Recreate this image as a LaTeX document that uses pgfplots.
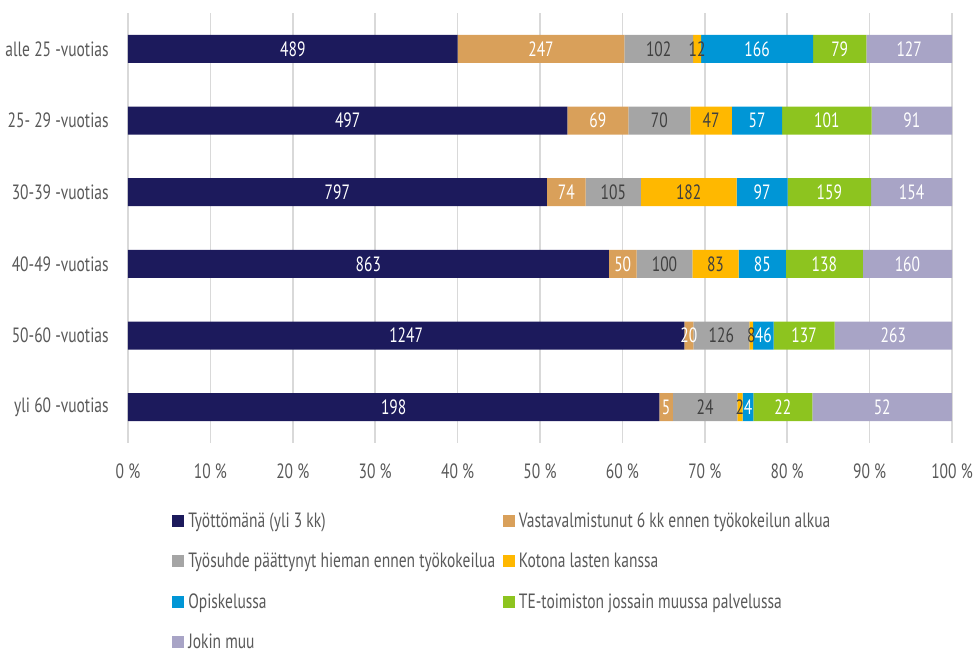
\documentclass[border=0pt]{standalone}
\usepackage{fontspec}
\setmainfont[FakeStretch=0.75]{PT Sans}
\usepackage{pgfplots}
\usepackage{pgfplotstable}
\pgfplotsset{compat=1.18}
\definecolor{cA}{HTML}{1C1A5C}
\definecolor{cB}{HTML}{D9A05A}
\definecolor{cC}{HTML}{A5A5A5}
\definecolor{cD}{HTML}{FFB800}
\definecolor{cE}{HTML}{0096D6}
\definecolor{cF}{HTML}{8DC41F}
\definecolor{cG}{HTML}{A8A4C6}
\definecolor{txt}{HTML}{595959}
\definecolor{dlab}{HTML}{404040}
\definecolor{grd}{HTML}{D9D9D9}

\pgfplotstableread{
pos a b c d e f g
0 489 247 102 12 166 79 127
1 497 69 70 47 57 101 91
2 797 74 105 182 97 159 154
3 863 50 100 83 85 138 160
4 1247 20 126 8 46 137 263
5 198 5 24 2 4 22 52
}\data
\pgfplotstablecreatecol[expr={\thisrow{a}+\thisrow{b}+\thisrow{c}+\thisrow{d}+\thisrow{e}+\thisrow{f}+\thisrow{g}}]{t}\data

\newcommand\seg[3]{%
\addplot[fill=#2, draw=none]
  table[x expr={\thisrow{#1}/\thisrow{t}*100}, y=pos] {\data};
\addlegendentry{#3}}

% #1 column, #2 sum of earlier columns, #3 label colour
\newcommand\lab[3]{%
\addplot[draw=none, mark=none, nodes near coords, point meta=explicit symbolic,
  every node near coord/.append style={anchor=center, text=#3}]
  table[x expr={(#2+\thisrow{#1}/2)/\thisrow{t}*100}, y=pos, meta=#1] {\data};}

\newcommand\lf{\fontsize{15.5}{18}\selectfont}

\pgfplotsset{common/.style={
  at={(96pt,-9.75pt)}, anchor=north west,
  width=618pt, height=322.5pt, scale only axis,
  xmin=0, xmax=100, ymin=-0.5, ymax=5.5, y dir=reverse}}

\begin{document}
\begin{tikzpicture}
\path[use as bounding box] (0,0) rectangle (732pt,-486.75pt);
\begin{axis}[common,
  xbar stacked, bar width=21pt,
  ytick={0,...,5},
  yticklabels={alle 25 -vuotias, 25- 29 -vuotias, 30-39 -vuotias, 40-49 -vuotias, 50-60 -vuotias, yli 60 -vuotias},
  xtick={0,10,...,100},
  xticklabel={\pgfmathprintnumber[assume math mode=true]{\tick}~\%},
  axis line style={draw=none}, major tick length=0pt,
  xmajorgrids, grid style={grd, line width=1.1pt},
  tick label style={font=\lf, text=txt},
  yticklabel style={xshift=-11pt},
  xticklabel style={yshift=-12pt},
  legend columns=2,
  legend cell align=left,
  legend style={at={(axis description cs:0.0534,-0.155)}, anchor=north west,
    draw=none, fill=none, font=\lf, text=txt, inner sep=0pt,
    row sep=13.8pt,
    /tikz/every odd column/.append style={column sep=1pt},
    /tikz/every even column/.append style={column sep=2pt}},
  legend image code/.code={\path[#1,draw=none] (0pt,-4.5pt) rectangle (9pt,4.5pt);},
]
\seg{a}{cA}{\makebox[232pt][l]{Työttömänä (yli 3 kk)}}
\seg{b}{cB}{Vastavalmistunut 6 kk ennen työkokeilun alkua}
\seg{c}{cC}{\makebox[232pt][l]{Työsuhde päättynyt hieman ennen työkokeilua}}
\seg{d}{cD}{Kotona lasten kanssa}
\seg{e}{cE}{\makebox[232pt][l]{Opiskelussa}}
\seg{f}{cF}{TE-toimiston jossain muussa palvelussa}
\seg{g}{cG}{\makebox[232pt][l]{Jokin muu}}
\end{axis}
\begin{axis}[common, hide axis, every node near coord/.append style={font=\lf}]
\lab{a}{0}{white}
\lab{b}{\thisrow{a}}{white}
\lab{c}{\thisrow{a}+\thisrow{b}}{dlab}
\lab{d}{\thisrow{a}+\thisrow{b}+\thisrow{c}}{dlab}
\lab{e}{\thisrow{a}+\thisrow{b}+\thisrow{c}+\thisrow{d}}{white}
\lab{f}{\thisrow{a}+\thisrow{b}+\thisrow{c}+\thisrow{d}+\thisrow{e}}{white}
\lab{g}{\thisrow{a}+\thisrow{b}+\thisrow{c}+\thisrow{d}+\thisrow{e}+\thisrow{f}}{white}
\end{axis}
\end{tikzpicture}
\end{document}
